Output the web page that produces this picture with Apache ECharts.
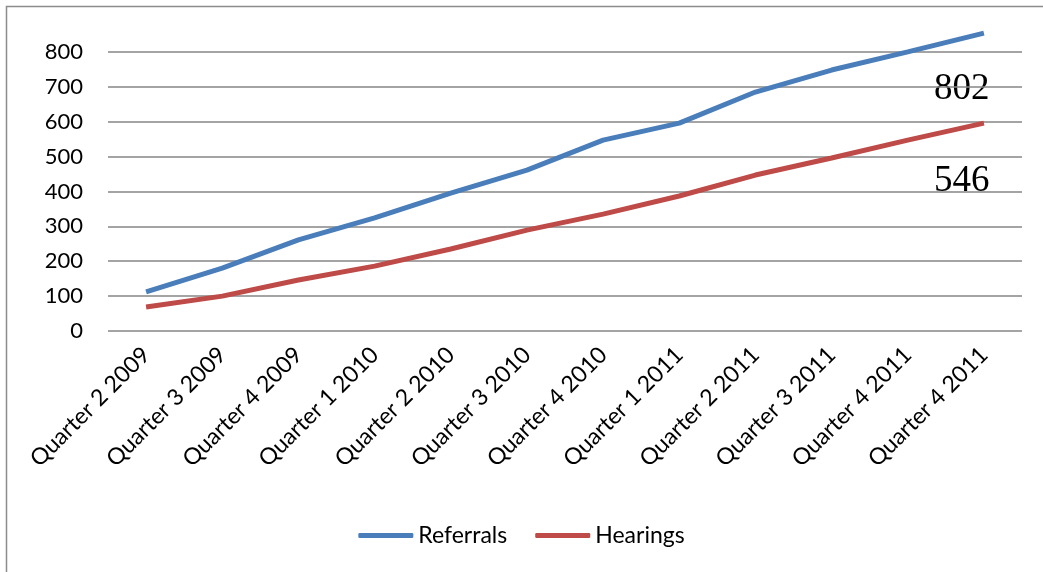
<!DOCTYPE html>
<html>
<head>
<meta charset="utf-8">
<script src="https://cdn.jsdelivr.net/npm/echarts@6/dist/echarts.min.js"></script>
<style>
  html, body { margin: 0; padding: 0; background: #fff; }
  #chart { width: 1043px; height: 572px; }
</style>
</head>
<body>
<div id="chart"></div>
<script>
const categories = [
  'Quarter 2 2009', 'Quarter 3 2009', 'Quarter 4 2009', 'Quarter 1 2010',
  'Quarter 2 2010', 'Quarter 3 2010', 'Quarter 4 2010', 'Quarter 1 2011',
  'Quarter 2 2011', 'Quarter 3 2011', 'Quarter 4 2011', 'Quarter 4 2011'
]
const referrals = [112, 180, 261, 324, 395, 461, 547, 596, 685, 748, 800, 854]
const hearings = [69, 100, 146, 186, 235, 289, 335, 387, 447, 496, 547, 596]
const callouts = ['802', '546']

const chart = echarts.init(document.getElementById('chart'))

const labelFont = 'Lato, "Open Sans", sans-serif'

chart.setOption({
  animation: false,
  grid: { left: 108, right: 21, top: 24, bottom: 241 },
  graphic: [
    {
      // frame: top and left edges only show, the rest runs off the picture
      type: 'rect',
      shape: { x: 6.5, y: 6.5, width: 1100, height: 600 },
      style: { fill: 'none', stroke: '#8c8c8c', lineWidth: 1.5 }
    },
    {
      type: 'text', left: 934, top: 71,
      style: { text: callouts[0], font: '37px "Liberation Serif", serif', fill: '#000' }
    },
    {
      type: 'text', left: 934, top: 163,
      style: { text: callouts[1], font: '37px "Liberation Serif", serif', fill: '#000' }
    }
  ],
  legend: {
    bottom: 20,
    left: 'center',
    itemWidth: 55,
    itemHeight: 5,
    itemGap: 28,
    icon: 'roundRect',
    textStyle: { fontFamily: labelFont, fontSize: 23, color: '#000' },
    data: ['Referrals', 'Hearings']
  },
  xAxis: {
    type: 'category',
    data: categories,
    boundaryGap: true,
    axisLine: { show: false },
    axisTick: { show: false },
    axisLabel: {
      interval: 0,
      rotate: 45,
      margin: 20,
      fontFamily: labelFont,
      fontSize: 23,
      color: '#000'
    }
  },
  yAxis: {
    type: 'value',
    min: 0,
    max: 880,
    interval: 100,
    axisLine: { show: false },
    axisTick: { show: false },
    axisLabel: {
      showMaxLabel: false,
      margin: 25,
      fontFamily: labelFont,
      fontSize: 22,
      color: '#000'
    },
    splitLine: {
      showMaxLine: false,
      lineStyle: { color: '#868686', width: 1.5 }
    }
  },
  series: [
    {
      name: 'Referrals',
      type: 'line',
      data: referrals,
      showSymbol: false,
      symbol: 'none',
      lineStyle: { color: '#4a7ebb', width: 5 },
      itemStyle: { color: '#4a7ebb' }
    },
    {
      name: 'Hearings',
      type: 'line',
      data: hearings,
      showSymbol: false,
      symbol: 'none',
      lineStyle: { color: '#be4b48', width: 5 },
      itemStyle: { color: '#be4b48' }
    }
  ]
})

window.addEventListener('resize', () => chart.resize())
</script>
</body>
</html>
